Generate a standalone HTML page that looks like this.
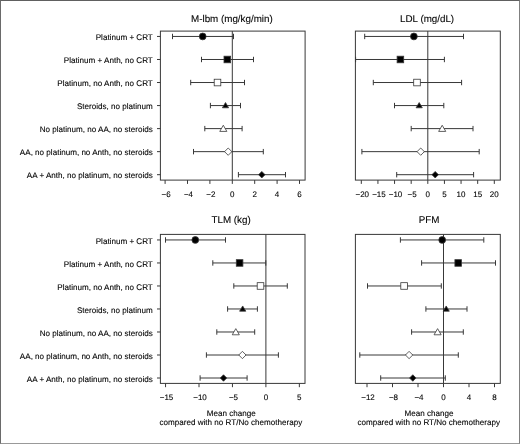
<!DOCTYPE html>
<html><head><meta charset="utf-8"><title>Forest plot</title>
<style>
html,body{margin:0;padding:0;background:#fff;}
body{width:520px;height:444px;overflow:hidden;position:relative;}
polygon{stroke-linejoin:round}
svg{display:block;position:absolute;left:0;top:0;}
svg text{font-family:"Liberation Sans",Arial,Helvetica,sans-serif;fill:#000;stroke:#000;stroke-width:0.1px;text-rendering:geometricPrecision;}
.frame{position:absolute;left:0;top:0;width:520px;height:444px;box-sizing:border-box;border-top:1px solid #606060;border-left:1px solid #6a6a6a;border-right:1px solid #808080;border-bottom:1px solid #999;}
</style></head><body>
<svg width="520" height="444" viewBox="0 0 520 444">
<g>
<rect x="160.4" y="31.1" width="144.70" height="149.00" fill="none" stroke="#383838" stroke-width="1.0"/>
<line x1="232.3" y1="31.1" x2="232.3" y2="180.1" stroke="#383838" stroke-width="1.0"/>
<text x="231.9" y="21.8" text-anchor="middle" font-size="9.8">M-lbm (mg/kg/min)</text>
<line x1="165.10" y1="180.1" x2="165.10" y2="183.9" stroke="#383838" stroke-width="1.0"/>
<text x="166.10" y="196.6" text-anchor="middle" font-size="8">−6</text>
<line x1="187.50" y1="180.1" x2="187.50" y2="183.9" stroke="#383838" stroke-width="1.0"/>
<text x="188.50" y="196.6" text-anchor="middle" font-size="8">−4</text>
<line x1="209.90" y1="180.1" x2="209.90" y2="183.9" stroke="#383838" stroke-width="1.0"/>
<text x="210.90" y="196.6" text-anchor="middle" font-size="8">−2</text>
<line x1="232.30" y1="180.1" x2="232.30" y2="183.9" stroke="#383838" stroke-width="1.0"/>
<text x="232.30" y="196.6" text-anchor="middle" font-size="8">0</text>
<line x1="254.70" y1="180.1" x2="254.70" y2="183.9" stroke="#383838" stroke-width="1.0"/>
<text x="254.70" y="196.6" text-anchor="middle" font-size="8">2</text>
<line x1="277.10" y1="180.1" x2="277.10" y2="183.9" stroke="#383838" stroke-width="1.0"/>
<text x="277.10" y="196.6" text-anchor="middle" font-size="8">4</text>
<line x1="299.50" y1="180.1" x2="299.50" y2="183.9" stroke="#383838" stroke-width="1.0"/>
<text x="299.50" y="196.6" text-anchor="middle" font-size="8">6</text>
<line x1="157.0" y1="36.45" x2="160.4" y2="36.45" stroke="#383838" stroke-width="1.0"/>
<text x="152.8" y="40.05" text-anchor="end" font-size="8.08">Platinum + CRT</text>
<line x1="172.5" y1="36.45" x2="233.5" y2="36.45" stroke="#383838" stroke-width="1.0"/>
<line x1="172.5" y1="33.75" x2="172.5" y2="39.15" stroke="#383838" stroke-width="1.0"/>
<line x1="233.5" y1="33.75" x2="233.5" y2="39.15" stroke="#383838" stroke-width="1.0"/>
<circle cx="202.70" cy="36.45" r="3.4" fill="#000" stroke="#383838" stroke-width="0.8"/>
<line x1="157.0" y1="59.49" x2="160.4" y2="59.49" stroke="#383838" stroke-width="1.0"/>
<text x="152.8" y="63.09" text-anchor="end" font-size="8.08">Platinum + Anth, no CRT</text>
<line x1="201.5" y1="59.49" x2="253.5" y2="59.49" stroke="#383838" stroke-width="1.0"/>
<line x1="201.5" y1="56.79" x2="201.5" y2="62.19" stroke="#383838" stroke-width="1.0"/>
<line x1="253.5" y1="56.79" x2="253.5" y2="62.19" stroke="#383838" stroke-width="1.0"/>
<rect x="224.00" y="56.19" width="6.6" height="6.6" fill="#000" stroke="#383838" stroke-width="0.8"/>
<line x1="157.0" y1="82.53" x2="160.4" y2="82.53" stroke="#383838" stroke-width="1.0"/>
<text x="152.8" y="86.13" text-anchor="end" font-size="8.08">Platinum, no Anth, no CRT</text>
<line x1="190.7" y1="82.53" x2="244.5" y2="82.53" stroke="#383838" stroke-width="1.0"/>
<line x1="190.7" y1="79.83" x2="190.7" y2="85.23" stroke="#383838" stroke-width="1.0"/>
<line x1="244.5" y1="79.83" x2="244.5" y2="85.23" stroke="#383838" stroke-width="1.0"/>
<rect x="214.20" y="79.23" width="6.6" height="6.6" fill="#fff" stroke="#383838" stroke-width="0.8"/>
<line x1="157.0" y1="105.57" x2="160.4" y2="105.57" stroke="#383838" stroke-width="1.0"/>
<text x="152.8" y="109.17" text-anchor="end" font-size="8.08">Steroids, no platinum</text>
<line x1="210.4" y1="105.57" x2="240.5" y2="105.57" stroke="#383838" stroke-width="1.0"/>
<line x1="210.4" y1="102.87" x2="210.4" y2="108.27" stroke="#383838" stroke-width="1.0"/>
<line x1="240.5" y1="102.87" x2="240.5" y2="108.27" stroke="#383838" stroke-width="1.0"/>
<polygon points="225.50,102.57 222.40,107.77 228.60,107.77" fill="#000" stroke="#383838" stroke-width="0.8"/>
<line x1="157.0" y1="128.61" x2="160.4" y2="128.61" stroke="#383838" stroke-width="1.0"/>
<text x="152.8" y="132.21" text-anchor="end" font-size="8.08">No platinum, no AA, no steroids</text>
<line x1="204.8" y1="128.61" x2="242.1" y2="128.61" stroke="#383838" stroke-width="1.0"/>
<line x1="204.8" y1="125.91" x2="204.8" y2="131.31" stroke="#383838" stroke-width="1.0"/>
<line x1="242.1" y1="125.91" x2="242.1" y2="131.31" stroke="#383838" stroke-width="1.0"/>
<polygon points="223.30,125.26 219.75,131.41 226.85,131.41" fill="#fff" stroke="#383838" stroke-width="0.8"/>
<line x1="157.0" y1="151.65" x2="160.4" y2="151.65" stroke="#383838" stroke-width="1.0"/>
<text x="152.8" y="155.25" text-anchor="end" font-size="8.08">AA, no platinum, no Anth, no steroids</text>
<line x1="193.5" y1="151.65" x2="263.3" y2="151.65" stroke="#383838" stroke-width="1.0"/>
<line x1="193.5" y1="148.95" x2="193.5" y2="154.35" stroke="#383838" stroke-width="1.0"/>
<line x1="263.3" y1="148.95" x2="263.3" y2="154.35" stroke="#383838" stroke-width="1.0"/>
<polygon points="228.20,148.00 231.85,151.65 228.20,155.30 224.55,151.65" fill="#fff" stroke="#383838" stroke-width="0.8"/>
<line x1="157.0" y1="174.69" x2="160.4" y2="174.69" stroke="#383838" stroke-width="1.0"/>
<text x="152.8" y="178.29" text-anchor="end" font-size="8.08">AA + Anth, no platinum, no steroids</text>
<line x1="238.4" y1="174.69" x2="285.5" y2="174.69" stroke="#383838" stroke-width="1.0"/>
<line x1="238.4" y1="171.99" x2="238.4" y2="177.39" stroke="#383838" stroke-width="1.0"/>
<line x1="285.5" y1="171.99" x2="285.5" y2="177.39" stroke="#383838" stroke-width="1.0"/>
<polygon points="261.80,171.44 265.05,174.69 261.80,177.94 258.55,174.69" fill="#000" stroke="#383838" stroke-width="0.8"/>
</g>
<g>
<rect x="355.4" y="31.1" width="144.90" height="149.00" fill="none" stroke="#383838" stroke-width="1.0"/>
<line x1="427.8" y1="31.1" x2="427.8" y2="180.1" stroke="#383838" stroke-width="1.0"/>
<text x="427.1" y="21.8" text-anchor="middle" font-size="9.8">LDL (mg/dL)</text>
<line x1="361.30" y1="180.1" x2="361.30" y2="183.9" stroke="#383838" stroke-width="1.0"/>
<text x="362.30" y="196.6" text-anchor="middle" font-size="8">−20</text>
<line x1="377.93" y1="180.1" x2="377.93" y2="183.9" stroke="#383838" stroke-width="1.0"/>
<text x="378.93" y="196.6" text-anchor="middle" font-size="8">−15</text>
<line x1="394.55" y1="180.1" x2="394.55" y2="183.9" stroke="#383838" stroke-width="1.0"/>
<text x="395.55" y="196.6" text-anchor="middle" font-size="8">−10</text>
<line x1="411.18" y1="180.1" x2="411.18" y2="183.9" stroke="#383838" stroke-width="1.0"/>
<text x="412.18" y="196.6" text-anchor="middle" font-size="8">−5</text>
<line x1="427.80" y1="180.1" x2="427.80" y2="183.9" stroke="#383838" stroke-width="1.0"/>
<text x="427.80" y="196.6" text-anchor="middle" font-size="8">0</text>
<line x1="444.43" y1="180.1" x2="444.43" y2="183.9" stroke="#383838" stroke-width="1.0"/>
<text x="444.43" y="196.6" text-anchor="middle" font-size="8">5</text>
<line x1="461.05" y1="180.1" x2="461.05" y2="183.9" stroke="#383838" stroke-width="1.0"/>
<text x="461.05" y="196.6" text-anchor="middle" font-size="8">10</text>
<line x1="477.68" y1="180.1" x2="477.68" y2="183.9" stroke="#383838" stroke-width="1.0"/>
<text x="477.68" y="196.6" text-anchor="middle" font-size="8">15</text>
<line x1="494.30" y1="180.1" x2="494.30" y2="183.9" stroke="#383838" stroke-width="1.0"/>
<text x="494.30" y="196.6" text-anchor="middle" font-size="8">20</text>
<line x1="364.7" y1="36.45" x2="463.5" y2="36.45" stroke="#383838" stroke-width="1.0"/>
<line x1="364.7" y1="33.75" x2="364.7" y2="39.15" stroke="#383838" stroke-width="1.0"/>
<line x1="463.5" y1="33.75" x2="463.5" y2="39.15" stroke="#383838" stroke-width="1.0"/>
<circle cx="413.90" cy="36.45" r="3.4" fill="#000" stroke="#383838" stroke-width="0.8"/>
<line x1="355.6" y1="59.49" x2="444.4" y2="59.49" stroke="#383838" stroke-width="1.0"/>
<line x1="355.6" y1="56.79" x2="355.6" y2="62.19" stroke="#383838" stroke-width="1.0"/>
<line x1="444.4" y1="56.79" x2="444.4" y2="62.19" stroke="#383838" stroke-width="1.0"/>
<rect x="397.10" y="56.19" width="6.6" height="6.6" fill="#000" stroke="#383838" stroke-width="0.8"/>
<line x1="373.3" y1="82.53" x2="461.6" y2="82.53" stroke="#383838" stroke-width="1.0"/>
<line x1="373.3" y1="79.83" x2="373.3" y2="85.23" stroke="#383838" stroke-width="1.0"/>
<line x1="461.6" y1="79.83" x2="461.6" y2="85.23" stroke="#383838" stroke-width="1.0"/>
<rect x="413.70" y="79.23" width="6.6" height="6.6" fill="#fff" stroke="#383838" stroke-width="0.8"/>
<line x1="394.5" y1="105.57" x2="443.8" y2="105.57" stroke="#383838" stroke-width="1.0"/>
<line x1="394.5" y1="102.87" x2="394.5" y2="108.27" stroke="#383838" stroke-width="1.0"/>
<line x1="443.8" y1="102.87" x2="443.8" y2="108.27" stroke="#383838" stroke-width="1.0"/>
<polygon points="419.20,102.57 416.10,107.77 422.30,107.77" fill="#000" stroke="#383838" stroke-width="0.8"/>
<line x1="411.2" y1="128.61" x2="473.0" y2="128.61" stroke="#383838" stroke-width="1.0"/>
<line x1="411.2" y1="125.91" x2="411.2" y2="131.31" stroke="#383838" stroke-width="1.0"/>
<line x1="473.0" y1="125.91" x2="473.0" y2="131.31" stroke="#383838" stroke-width="1.0"/>
<polygon points="442.20,125.26 438.65,131.41 445.75,131.41" fill="#fff" stroke="#383838" stroke-width="0.8"/>
<line x1="361.9" y1="151.65" x2="479.2" y2="151.65" stroke="#383838" stroke-width="1.0"/>
<line x1="361.9" y1="148.95" x2="361.9" y2="154.35" stroke="#383838" stroke-width="1.0"/>
<line x1="479.2" y1="148.95" x2="479.2" y2="154.35" stroke="#383838" stroke-width="1.0"/>
<polygon points="420.70,148.00 424.35,151.65 420.70,155.30 417.05,151.65" fill="#fff" stroke="#383838" stroke-width="0.8"/>
<line x1="396.7" y1="174.69" x2="473.6" y2="174.69" stroke="#383838" stroke-width="1.0"/>
<line x1="396.7" y1="171.99" x2="396.7" y2="177.39" stroke="#383838" stroke-width="1.0"/>
<line x1="473.6" y1="171.99" x2="473.6" y2="177.39" stroke="#383838" stroke-width="1.0"/>
<polygon points="435.20,171.44 438.45,174.69 435.20,177.94 431.95,174.69" fill="#000" stroke="#383838" stroke-width="0.8"/>
</g>
<g>
<rect x="160.4" y="234.4" width="144.60" height="149.00" fill="none" stroke="#383838" stroke-width="1.0"/>
<line x1="265.9" y1="234.4" x2="265.9" y2="383.4" stroke="#383838" stroke-width="1.0"/>
<text x="231.1" y="222.8" text-anchor="middle" font-size="9.8">TLM (kg)</text>
<line x1="165.55" y1="383.4" x2="165.55" y2="387.2" stroke="#383838" stroke-width="1.0"/>
<text x="166.55" y="399.9" text-anchor="middle" font-size="8">−15</text>
<line x1="199.00" y1="383.4" x2="199.00" y2="387.2" stroke="#383838" stroke-width="1.0"/>
<text x="200.00" y="399.9" text-anchor="middle" font-size="8">−10</text>
<line x1="232.45" y1="383.4" x2="232.45" y2="387.2" stroke="#383838" stroke-width="1.0"/>
<text x="233.45" y="399.9" text-anchor="middle" font-size="8">−5</text>
<line x1="265.90" y1="383.4" x2="265.90" y2="387.2" stroke="#383838" stroke-width="1.0"/>
<text x="265.90" y="399.9" text-anchor="middle" font-size="8">0</text>
<line x1="299.35" y1="383.4" x2="299.35" y2="387.2" stroke="#383838" stroke-width="1.0"/>
<text x="299.35" y="399.9" text-anchor="middle" font-size="8">5</text>
<line x1="157.0" y1="239.95" x2="160.4" y2="239.95" stroke="#383838" stroke-width="1.0"/>
<text x="152.8" y="243.55" text-anchor="end" font-size="8.08">Platinum + CRT</text>
<line x1="165.5" y1="239.95" x2="225.5" y2="239.95" stroke="#383838" stroke-width="1.0"/>
<line x1="165.5" y1="237.25" x2="165.5" y2="242.65" stroke="#383838" stroke-width="1.0"/>
<line x1="225.5" y1="237.25" x2="225.5" y2="242.65" stroke="#383838" stroke-width="1.0"/>
<circle cx="195.30" cy="239.95" r="3.4" fill="#000" stroke="#383838" stroke-width="0.8"/>
<line x1="157.0" y1="262.96" x2="160.4" y2="262.96" stroke="#383838" stroke-width="1.0"/>
<text x="152.8" y="266.56" text-anchor="end" font-size="8.08">Platinum + Anth, no CRT</text>
<line x1="212.8" y1="262.96" x2="265.8" y2="262.96" stroke="#383838" stroke-width="1.0"/>
<line x1="212.8" y1="260.26" x2="212.8" y2="265.66" stroke="#383838" stroke-width="1.0"/>
<line x1="265.8" y1="260.26" x2="265.8" y2="265.66" stroke="#383838" stroke-width="1.0"/>
<rect x="236.30" y="259.66" width="6.6" height="6.6" fill="#000" stroke="#383838" stroke-width="0.8"/>
<line x1="157.0" y1="285.97" x2="160.4" y2="285.97" stroke="#383838" stroke-width="1.0"/>
<text x="152.8" y="289.57" text-anchor="end" font-size="8.08">Platinum, no Anth, no CRT</text>
<line x1="233.8" y1="285.97" x2="287.3" y2="285.97" stroke="#383838" stroke-width="1.0"/>
<line x1="233.8" y1="283.27" x2="233.8" y2="288.67" stroke="#383838" stroke-width="1.0"/>
<line x1="287.3" y1="283.27" x2="287.3" y2="288.67" stroke="#383838" stroke-width="1.0"/>
<rect x="257.20" y="282.67" width="6.6" height="6.6" fill="#fff" stroke="#383838" stroke-width="0.8"/>
<line x1="157.0" y1="308.98" x2="160.4" y2="308.98" stroke="#383838" stroke-width="1.0"/>
<text x="152.8" y="312.58" text-anchor="end" font-size="8.08">Steroids, no platinum</text>
<line x1="227.6" y1="308.98" x2="257.4" y2="308.98" stroke="#383838" stroke-width="1.0"/>
<line x1="227.6" y1="306.28" x2="227.6" y2="311.68" stroke="#383838" stroke-width="1.0"/>
<line x1="257.4" y1="306.28" x2="257.4" y2="311.68" stroke="#383838" stroke-width="1.0"/>
<polygon points="242.70,305.98 239.60,311.18 245.80,311.18" fill="#000" stroke="#383838" stroke-width="0.8"/>
<line x1="157.0" y1="331.99" x2="160.4" y2="331.99" stroke="#383838" stroke-width="1.0"/>
<text x="152.8" y="335.59" text-anchor="end" font-size="8.08">No platinum, no AA, no steroids</text>
<line x1="216.8" y1="331.99" x2="254.7" y2="331.99" stroke="#383838" stroke-width="1.0"/>
<line x1="216.8" y1="329.29" x2="216.8" y2="334.69" stroke="#383838" stroke-width="1.0"/>
<line x1="254.7" y1="329.29" x2="254.7" y2="334.69" stroke="#383838" stroke-width="1.0"/>
<polygon points="235.80,328.64 232.25,334.79 239.35,334.79" fill="#fff" stroke="#383838" stroke-width="0.8"/>
<line x1="157.0" y1="355.00" x2="160.4" y2="355.00" stroke="#383838" stroke-width="1.0"/>
<text x="152.8" y="358.60" text-anchor="end" font-size="8.08">AA, no platinum, no Anth, no steroids</text>
<line x1="206.4" y1="355.00" x2="278.4" y2="355.00" stroke="#383838" stroke-width="1.0"/>
<line x1="206.4" y1="352.30" x2="206.4" y2="357.70" stroke="#383838" stroke-width="1.0"/>
<line x1="278.4" y1="352.30" x2="278.4" y2="357.70" stroke="#383838" stroke-width="1.0"/>
<polygon points="242.40,351.35 246.05,355.00 242.40,358.65 238.75,355.00" fill="#fff" stroke="#383838" stroke-width="0.8"/>
<line x1="157.0" y1="378.01" x2="160.4" y2="378.01" stroke="#383838" stroke-width="1.0"/>
<text x="152.8" y="381.61" text-anchor="end" font-size="8.08">AA + Anth, no platinum, no steroids</text>
<line x1="200.1" y1="378.01" x2="247.1" y2="378.01" stroke="#383838" stroke-width="1.0"/>
<line x1="200.1" y1="375.31" x2="200.1" y2="380.71" stroke="#383838" stroke-width="1.0"/>
<line x1="247.1" y1="375.31" x2="247.1" y2="380.71" stroke="#383838" stroke-width="1.0"/>
<polygon points="223.50,374.76 226.75,378.01 223.50,381.26 220.25,378.01" fill="#000" stroke="#383838" stroke-width="0.8"/>
<text x="231.3" y="415.6" text-anchor="middle" font-size="8.08">Mean change</text>
<text x="230.9" y="425.2" text-anchor="middle" font-size="8.08">compared with no RT/No chemotherapy</text>
</g>
<g>
<rect x="355.4" y="234.4" width="144.90" height="149.00" fill="none" stroke="#383838" stroke-width="1.0"/>
<line x1="443.5" y1="234.4" x2="443.5" y2="383.4" stroke="#383838" stroke-width="1.0"/>
<text x="429.1" y="222.7" text-anchor="middle" font-size="9.8">PFM</text>
<line x1="367.00" y1="383.4" x2="367.00" y2="387.2" stroke="#383838" stroke-width="1.0"/>
<text x="368.00" y="399.9" text-anchor="middle" font-size="8">−12</text>
<line x1="392.50" y1="383.4" x2="392.50" y2="387.2" stroke="#383838" stroke-width="1.0"/>
<text x="393.50" y="399.9" text-anchor="middle" font-size="8">−8</text>
<line x1="418.00" y1="383.4" x2="418.00" y2="387.2" stroke="#383838" stroke-width="1.0"/>
<text x="419.00" y="399.9" text-anchor="middle" font-size="8">−4</text>
<line x1="443.50" y1="383.4" x2="443.50" y2="387.2" stroke="#383838" stroke-width="1.0"/>
<text x="443.50" y="399.9" text-anchor="middle" font-size="8">0</text>
<line x1="469.00" y1="383.4" x2="469.00" y2="387.2" stroke="#383838" stroke-width="1.0"/>
<text x="469.00" y="399.9" text-anchor="middle" font-size="8">4</text>
<line x1="494.50" y1="383.4" x2="494.50" y2="387.2" stroke="#383838" stroke-width="1.0"/>
<text x="494.50" y="399.9" text-anchor="middle" font-size="8">8</text>
<line x1="400.4" y1="239.95" x2="483.8" y2="239.95" stroke="#383838" stroke-width="1.0"/>
<line x1="400.4" y1="237.25" x2="400.4" y2="242.65" stroke="#383838" stroke-width="1.0"/>
<line x1="483.8" y1="237.25" x2="483.8" y2="242.65" stroke="#383838" stroke-width="1.0"/>
<circle cx="442.20" cy="239.95" r="3.4" fill="#000" stroke="#383838" stroke-width="0.8"/>
<line x1="421.6" y1="262.96" x2="495.5" y2="262.96" stroke="#383838" stroke-width="1.0"/>
<line x1="421.6" y1="260.26" x2="421.6" y2="265.66" stroke="#383838" stroke-width="1.0"/>
<line x1="495.5" y1="260.26" x2="495.5" y2="265.66" stroke="#383838" stroke-width="1.0"/>
<rect x="454.90" y="259.66" width="6.6" height="6.6" fill="#000" stroke="#383838" stroke-width="0.8"/>
<line x1="367.5" y1="285.97" x2="441.3" y2="285.97" stroke="#383838" stroke-width="1.0"/>
<line x1="367.5" y1="283.27" x2="367.5" y2="288.67" stroke="#383838" stroke-width="1.0"/>
<line x1="441.3" y1="283.27" x2="441.3" y2="288.67" stroke="#383838" stroke-width="1.0"/>
<rect x="400.80" y="282.67" width="6.6" height="6.6" fill="#fff" stroke="#383838" stroke-width="0.8"/>
<line x1="425.9" y1="308.98" x2="467.0" y2="308.98" stroke="#383838" stroke-width="1.0"/>
<line x1="425.9" y1="306.28" x2="425.9" y2="311.68" stroke="#383838" stroke-width="1.0"/>
<line x1="467.0" y1="306.28" x2="467.0" y2="311.68" stroke="#383838" stroke-width="1.0"/>
<polygon points="446.20,305.98 443.10,311.18 449.30,311.18" fill="#000" stroke="#383838" stroke-width="0.8"/>
<line x1="411.6" y1="331.99" x2="463.3" y2="331.99" stroke="#383838" stroke-width="1.0"/>
<line x1="411.6" y1="329.29" x2="411.6" y2="334.69" stroke="#383838" stroke-width="1.0"/>
<line x1="463.3" y1="329.29" x2="463.3" y2="334.69" stroke="#383838" stroke-width="1.0"/>
<polygon points="437.60,328.64 434.05,334.79 441.15,334.79" fill="#fff" stroke="#383838" stroke-width="0.8"/>
<line x1="359.8" y1="355.00" x2="458.3" y2="355.00" stroke="#383838" stroke-width="1.0"/>
<line x1="359.8" y1="352.30" x2="359.8" y2="357.70" stroke="#383838" stroke-width="1.0"/>
<line x1="458.3" y1="352.30" x2="458.3" y2="357.70" stroke="#383838" stroke-width="1.0"/>
<polygon points="409.10,351.35 412.75,355.00 409.10,358.65 405.45,355.00" fill="#fff" stroke="#383838" stroke-width="0.8"/>
<line x1="380.7" y1="378.01" x2="445.3" y2="378.01" stroke="#383838" stroke-width="1.0"/>
<line x1="380.7" y1="375.31" x2="380.7" y2="380.71" stroke="#383838" stroke-width="1.0"/>
<line x1="445.3" y1="375.31" x2="445.3" y2="380.71" stroke="#383838" stroke-width="1.0"/>
<polygon points="412.80,374.76 416.05,378.01 412.80,381.26 409.55,378.01" fill="#000" stroke="#383838" stroke-width="0.8"/>
<text x="429.09999999999997" y="415.6" text-anchor="middle" font-size="8.08">Mean change</text>
<text x="428.7" y="425.2" text-anchor="middle" font-size="8.08">compared with no RT/No chemotherapy</text>
</g>
</svg>
<div class="frame"></div>
</body></html>
